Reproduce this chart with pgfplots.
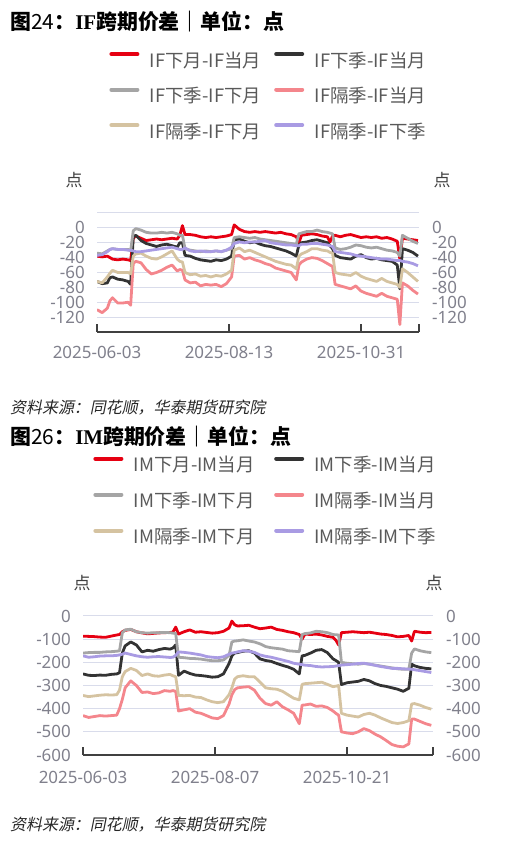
\documentclass[border=0pt]{standalone}
\usepackage{fontspec}
\usepackage{pgfplots}
\pgfplotsset{compat=1.18}
\usepackage{pgfplotstable}
\setmainfont{Noto Sans}
\newfontfamily\cjk{Noto Sans CJK SC}
\newfontfamily\cjkit[FakeSlant=0.2]{Noto Sans CJK SC}
\newfontfamily\tnr{Liberation Serif}

\definecolor{cred}{RGB}{230,0,18}
\definecolor{cblk}{RGB}{51,51,51}
\definecolor{cgry}{RGB}{165,165,165}
\definecolor{cpnk}{RGB}{244,134,140}
\definecolor{ctan}{RGB}{213,195,161}
\definecolor{cpur}{RGB}{169,155,227}
\definecolor{cgrid}{RGB}{217,220,235}
\definecolor{ctick}{RGB}{128,128,140}
\definecolor{cleg}{RGB}{89,89,89}
\definecolor{caxis}{RGB}{64,64,64}

\pgfplotstableread{
i r k g p t u
0 -38 -72 -34 -110 -72 -37
2 -39 -75 -35 -114 -74 -36
4 -38 -74 -31 -108 -66 -32
5 -40 -67 -29 -98 -61 -29
6 -42 -66 -28 -94 -57 -28
8 -43 -69 -29 -101 -60 -29
10 -42 -70 -29 -101 -60 -29
12 -43 -72 -29 -100 -60 -30
13 -44 -76 -31 -104 -62 -30
14 -14 -12 -4 -48 -38 -31
15 -11 -10 -1 -45 -35 -32
17 -14 -17 -3 -47 -34 -32
19 -17 -21 -6 -56 -38 -31
21 -16 -23 -7 -62 -41 -30
23 -15 -25 -7 -60 -42 -29
25 -16 -23 -6 -57 -39 -28
27 -15 -22 -7 -53 -35 -27
29 -14 -24 -6 -50 -31 -26
31 -15 -26 -8 -58 -42 -28
32 -10 -20 -10 -56 -45 -29
33 3 -20 -10 -57 -46 -29
34 -9 -37 -28 -70 -60 -27
36 -9 -38 -30 -74 -63 -31
38 -10 -41 -31 -73 -62 -32
40 -12 -43 -32 -78 -65 -31
42 -13 -44 -31 -76 -64 -32
44 -12 -45 -32 -77 -66 -32
46 -13 -43 -31 -76 -64 -31
48 -12 -44 -32 -79 -65 -32
50 -11 -42 -30 -75 -62 -30
52 -9 -38 -28 -66 -57 -26
53 4 -16 -13 -38 -30 -21
55 -2 -15 -12 -37 -27 -19
57 -5 -18 -13 -42 -32 -20
59 -6 -20 -14 -40 -30 -19
61 -5 -19 -13 -43 -33 -19
63 -6 -22 -15 -45 -36 -18
65 -5 -24 -16 -48 -39 -17
67 -6 -25 -17 -50 -42 -20
69 -7 -27 -18 -54 -45 -21
71 -6 -29 -19 -56 -47 -22
73 -8 -31 -20 -58 -49 -23
75 -9 -34 -21 -60 -50 -23
77 -12 -38 -22 -70 -55 -24
78 -20 -23 -8 -50 -38 -24
79 -10 -20 -7 -46 -35 -22
81 -9 -19 -5 -42 -32 -22
83 -8 -17 -5 -40 -28 -21
85 -9 -16 -3 -41 -28 -21
87 -11 -18 -5 -44 -30 -22
89 -12 -20 -6 -48 -31 -23
90 -19 -24 -7 -50 -33 -24
91 -11 -28 -8 -52 -34 -25
92 -10 -37 -27 -76 -60 -32
94 -12 -40 -29 -78 -62 -33
96 -10 -41 -28 -80 -63 -34
98 -9 -42 -26 -82 -64 -35
100 -11 -38 -23 -78 -60 -37
102 -13 -36 -24 -85 -65 -38
104 -12 -40 -26 -88 -68 -39
106 -13 -42 -27 -90 -70 -40
108 -12 -41 -26 -92 -72 -41
110 -14 -43 -28 -88 -68 -42
112 -13 -44 -30 -92 -72 -42
114 -15 -45 -31 -94 -74 -43
116 -18 -50 -33 -96 -76 -44
117 -42 -82 -38 -130 -80 -44
118 -14 -28 -10 -74 -55 -45
120 -15 -30 -14 -78 -60 -46
122 -16 -33 -18 -84 -66 -48
124 -17 -38 -21 -89 -72 -51
}\tabIF

\pgfplotstableread{
i r k g p t u
0 -87 -250 -160 -430 -343 -172
2 -88 -256 -158 -438 -348 -178
4 -89 -257 -157 -434 -345 -176
6 -91 -255 -157 -430 -342 -173
8 -92 -256 -155 -432 -340 -172
10 -87 -252 -154 -430 -341 -172
12 -82 -250 -152 -428 -340 -170
13 -80 -245 -150 -400 -320 -168
14 -68 -160 -72 -360 -262 -165
15 -62 -129 -60 -310 -240 -160
17 -58 -112 -57 -280 -226 -166
19 -68 -125 -68 -300 -235 -172
21 -73 -155 -72 -330 -257 -176
23 -77 -148 -74 -328 -250 -178
25 -75 -152 -72 -335 -258 -176
27 -73 -145 -72 -332 -260 -175
29 -72 -140 -71 -322 -255 -177
31 -71 -143 -72 -325 -252 -179
32 -70 -138 -74 -322 -258 -178
33 -48 -125 -75 -325 -262 -170
34 -78 -256 -178 -410 -343 -155
36 -68 -238 -180 -405 -344 -157
38 -60 -248 -183 -400 -343 -160
40 -70 -255 -184 -415 -350 -164
42 -68 -257 -186 -420 -352 -168
44 -71 -260 -190 -430 -362 -175
46 -74 -264 -193 -440 -370 -178
48 -72 -262 -193 -443 -374 -180
50 -66 -250 -190 -430 -370 -176
52 -52 -205 -170 -380 -340 -165
53 -22 -172 -112 -340 -310 -160
54 -38 -160 -108 -318 -272 -158
55 -43 -158 -107 -310 -262 -155
57 -42 -152 -103 -307 -258 -150
59 -40 -150 -108 -305 -262 -152
61 -48 -160 -112 -320 -262 -157
63 -55 -185 -120 -355 -285 -168
65 -52 -192 -132 -378 -310 -174
67 -48 -196 -137 -385 -314 -178
69 -58 -205 -140 -370 -316 -184
71 -62 -213 -143 -392 -325 -190
73 -68 -220 -150 -405 -340 -196
75 -72 -230 -152 -420 -355 -204
77 -80 -250 -154 -465 -362 -208
78 -100 -172 -80 -385 -295 -210
79 -78 -170 -76 -384 -292 -212
81 -80 -160 -73 -380 -290 -214
83 -78 -148 -66 -390 -288 -218
85 -82 -145 -68 -388 -286 -220
87 -88 -158 -72 -395 -295 -219
89 -92 -185 -80 -410 -305 -218
90 -104 -192 -81 -420 -303 -216
91 -125 -200 -82 -428 -300 -214
92 -72 -296 -200 -500 -420 -212
94 -70 -288 -204 -505 -428 -210
96 -68 -285 -206 -508 -432 -208
98 -70 -282 -208 -500 -436 -205
100 -72 -274 -205 -486 -425 -204
102 -70 -280 -208 -495 -420 -208
104 -74 -292 -212 -510 -428 -213
106 -78 -300 -216 -522 -440 -218
108 -80 -304 -220 -538 -450 -222
110 -84 -310 -224 -555 -460 -226
112 -90 -316 -228 -562 -464 -226
114 -88 -325 -230 -565 -460 -228
116 -84 -312 -230 -552 -452 -229
117 -108 -208 -160 -445 -380 -230
118 -66 -215 -142 -445 -378 -232
120 -70 -222 -150 -455 -385 -236
122 -72 -226 -155 -465 -395 -240
124 -71 -228 -158 -472 -402 -244
}\tabIM

\pgfplotsset{
  mainax/.style={
    scale only axis, xmin=0,
    axis x line*=bottom, axis y line*=left,
    y axis line style={draw=none},
    x axis line style={draw=caxis, line width=1.2bp},
    tick align=inside, major tick length=8bp,
    xtick style={draw=caxis, line width=1.2bp},
    ytick style={draw=none},
    ymajorgrids, grid style={cgrid, line width=1bp},
    tick label style={font=\fontsize{17}{18}\selectfont, text=ctick, inner sep=0pt},
    yticklabel style={anchor=east, xshift=-12bp},
    xticklabel style={anchor=north, yshift=-14bp},
    every axis plot/.append style={line width=2.8bp, line join=round, mark=none},
    legend columns=2, legend cell align=left,
    legend image code/.code={\draw[##1,line width=4bp,line cap=round] (2bp,6.5bp)--(28bp,6.5bp); \path (0bp,0bp) (39bp,0bp);},
  },
  rightax/.style={
    scale only axis, xmin=0,
    axis x line=none, axis y line*=right,
    y axis line style={draw=none}, ytick style={draw=none},
    tick label style={font=\fontsize{17}{18}\selectfont, text=ctick, inner sep=0pt},
    yticklabel style={anchor=west, xshift=13bp},
  },
}

\begin{document}
\begin{tikzpicture}[x=1bp,y=1bp]
\useasboundingbox (0,0) rectangle (522,841);

% ---------- chart 1 ----------
\node[anchor=west, inner sep=0pt, text=black] at (10,819) {\fontsize{21}{24}\selectfont{\cjk\bfseries 图}{\cjk 24}{\cjk\bfseries ：}{\tnr\bfseries IF}{\cjk\bfseries 跨期价差｜单位：点}};

\begin{axis}[mainax, at={(97bp,509bp)}, anchor=south west, width=322bp, height=119bp,
  xmax=124.4, ymin=-140, ymax=20,
  ytick={-140,-120,...,20}, yticklabels={,-120,-100,-80,-60,-40,-20,0,},
  xtick={0,51,102,124.4}, xticklabels={2025-06-03,2025-08-13,2025-10-31,{}},
  legend style={draw=none, fill=none, inner sep=0pt, outer sep=0pt, row sep=18.5bp, column sep=0pt,
    at={(axis description cs:0.0342,2.352)}, anchor=north west,
    nodes={inner sep=0pt, text width=123bp, text height=15bp, text depth=2bp, font=\cjk\fontsize{18.5}{20}\selectfont, text=cleg}},
]
\addplot[cred] table[x=i,y=r] {\tabIF}; \addlegendentry{IF下月-IF当月}
\addplot[cblk] table[x=i,y=k] {\tabIF}; \addlegendentry{IF下季-IF当月}
\addplot[cgry] table[x=i,y=g] {\tabIF}; \addlegendentry{IF下季-IF下月}
\addplot[cpnk] table[x=i,y=p] {\tabIF}; \addlegendentry{IF隔季-IF当月}
\addplot[ctan] table[x=i,y=t] {\tabIF}; \addlegendentry{IF隔季-IF下月}
\addplot[cpur] table[x=i,y=u] {\tabIF}; \addlegendentry{IF隔季-IF下季}
\end{axis}
\begin{axis}[rightax, at={(97bp,509bp)}, anchor=south west, width=322bp, height=119bp,
  xmax=124.4, ymin=-140, ymax=20,
  ytick={-140,-120,...,20}, yticklabels={,-120,-100,-80,-60,-40,-20,0,}]
\addplot[draw=none, forget plot] coordinates {(0,-10)};
\end{axis}
\node[text=caxis] at (74,661) {\cjk\fontsize{17}{20}\selectfont 点};
\node[text=caxis] at (442,661) {\cjk\fontsize{17}{20}\selectfont 点};
\node[anchor=west, inner sep=0pt, text=black!85] at (10,433) {\cjkit\fontsize{16}{18}\selectfont 资料来源：同花顺，华泰期货研究院};

% ---------- chart 2 ----------
\node[anchor=west, inner sep=0pt, text=black] at (10,404) {\fontsize{21}{24}\selectfont{\cjk\bfseries 图}{\cjk 26}{\cjk\bfseries ：}{\tnr\bfseries IM}{\cjk\bfseries 跨期价差｜单位：点}};

\begin{axis}[mainax, at={(83bp,86bp)}, anchor=south west, width=350bp, height=139bp,
  xmax=124.6, ymin=-600, ymax=0,
  ytick={-600,-500,...,0}, yticklabels={-600,-500,-400,-300,-200,-100,0},
  xtick={0,47,94,124.6}, xticklabels={2025-06-03,2025-08-07,2025-10-21,{}},
  xticklabel style={yshift=-2bp},
  legend style={draw=none, fill=none, inner sep=0pt, outer sep=0pt, row sep=19bp, column sep=0pt,
    at={(axis description cs:0.0257,2.147)}, anchor=north west,
    nodes={inner sep=0pt, text width=139bp, text height=15bp, text depth=2bp, font=\cjk\fontsize{18.5}{20}\selectfont, text=cleg}},
]
\addplot[cred] table[x=i,y=r] {\tabIM}; \addlegendentry{IM下月-IM当月}
\addplot[cblk] table[x=i,y=k] {\tabIM}; \addlegendentry{IM下季-IM当月}
\addplot[cgry] table[x=i,y=g] {\tabIM}; \addlegendentry{IM下季-IM下月}
\addplot[cpnk] table[x=i,y=p] {\tabIM}; \addlegendentry{IM隔季-IM当月}
\addplot[ctan] table[x=i,y=t] {\tabIM}; \addlegendentry{IM隔季-IM下月}
\addplot[cpur] table[x=i,y=u] {\tabIM}; \addlegendentry{IM隔季-IM下季}
\end{axis}
\begin{axis}[rightax, at={(83bp,86bp)}, anchor=south west, width=350bp, height=139bp,
  xmax=124.6, ymin=-600, ymax=0,
  ytick={-600,-500,...,0}, yticklabels={-600,-500,-400,-300,-200,-100,0}]
\addplot[draw=none, forget plot] coordinates {(0,-10)};
\end{axis}
\node[text=caxis] at (82,258) {\cjk\fontsize{17}{20}\selectfont 点};
\node[text=caxis] at (434,258) {\cjk\fontsize{17}{20}\selectfont 点};
\node[anchor=west, inner sep=0pt, text=black!85] at (10,16) {\cjkit\fontsize{16}{18}\selectfont 资料来源：同花顺，华泰期货研究院};
\end{tikzpicture}
\end{document}
